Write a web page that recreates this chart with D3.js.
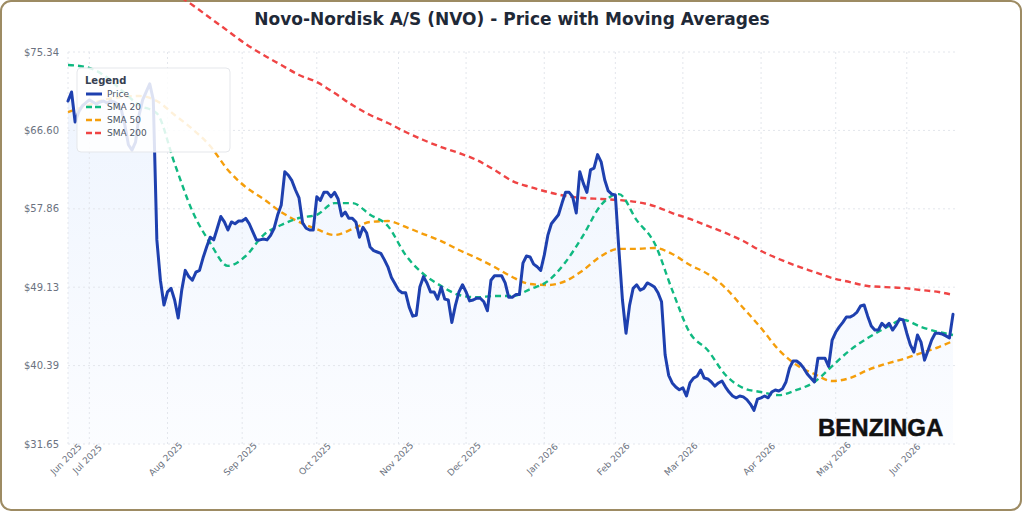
<!DOCTYPE html>
<html>
<head>
<meta charset="utf-8">
<title>NVO Price with Moving Averages</title>
<script src="https://cdn.jsdelivr.net/npm/d3@7"></script>
<style>
  body { margin: 0; background: #fff; }
  svg { display: block; font-family: "DejaVu Sans", sans-serif; }
</style>
</head>
<body>
<svg id="chart" width="1024" height="512"></svg>
<script>
// trading calendar (US market holidays skipped)
const startDate = "2025-06-23";
const endDate = "2026-06-18";
const holidays = ["2025-07-04", "2025-09-01", "2025-11-27", "2025-12-25", "2026-01-01",
  "2026-01-19", "2026-02-16", "2026-04-03", "2026-05-25"];

const yTicks = [31.65, 40.39, 49.13, 57.86, 66.60, 75.34];

// daily close
const price = [
  69.88, 70.88, 67.54, 68.65, 69.32, 69.66, 70.0, 69.77, 69.55, 69.77,
  69.88, 69.66, 69.88, 69.77, 69.55, 68.9, 67.2, 65.0, 64.4, 65.3,
  68.3, 70.0, 70.9, 71.8, 70.0, 54.4, 49.9, 47.14, 48.6, 49.0,
  47.7, 45.7, 48.8, 51.0, 50.3, 49.9, 50.8, 51.0, 52.4, 53.6,
  54.7, 54.4, 55.7, 57.0, 56.4, 55.5, 56.4, 56.2, 56.5, 56.5,
  56.8, 56.2, 55.3, 54.4, 54.4, 54.5, 54.4, 54.9, 55.7, 57.2,
  58.3, 62.0, 61.6, 61.0, 59.96, 59.07, 56.3, 55.7, 55.5, 55.5,
  59.2, 58.8, 59.7, 59.7, 59.2, 59.7, 58.96, 57.06, 57.5, 56.8,
  56.8, 56.4, 54.7, 55.8, 55.2, 53.6, 53.2, 53.05, 52.9, 52.2,
  51.4, 50.2, 49.5, 48.8, 48.5, 48.5, 46.9, 45.9, 46.0, 49.15,
  50.3, 49.6, 48.6, 48.6, 47.8, 49.15, 47.8, 47.7, 45.2, 47.1,
  48.6, 49.4, 48.6, 47.6, 47.7, 47.9, 47.9, 47.5, 46.5, 49.9,
  50.4, 50.4, 50.4, 49.6, 48.0, 48.0, 48.3, 48.3, 51.8, 52.6,
  52.5, 51.7, 51.4, 51.0, 52.7, 54.9, 56.2, 56.7, 57.2, 58.5,
  59.7, 59.7, 59.2, 57.4, 62.0, 60.7, 59.7, 62.2, 62.4, 63.9,
  63.1, 61.1, 59.85, 59.5, 59.4, 53.3, 47.7, 44.0, 47.1, 49.0,
  49.4, 48.8, 49.0, 49.6, 49.4, 49.15, 48.5, 47.5, 41.6, 39.3,
  38.45, 38.0, 37.7, 37.9, 37.0, 38.45, 39.0, 39.2, 39.9, 39.0,
  38.9, 38.56, 38.1, 38.45, 38.67, 38.0, 37.44, 37.0, 36.8, 37.0,
  36.9, 36.6, 36.1, 35.4, 36.66, 36.8, 37.0, 36.8, 37.44, 37.67,
  37.56, 37.8, 38.56, 40.1, 40.9, 40.9, 40.6, 40.1, 39.45, 39.0,
  38.56, 41.2, 41.2, 41.2, 40.3, 43.24, 44.1, 44.7, 45.2, 45.8,
  45.8, 46.0, 46.36, 47.03, 47.14, 45.9, 44.8, 44.35, 44.35, 45.1,
  44.7, 45.1, 44.35, 44.9, 45.6, 45.47, 44.0, 42.7, 41.9, 43.8,
  43.0, 41.0, 42.1, 43.24, 44.0, 44.0, 43.9, 43.7, 43.46, 46.1
];

// moving averages, read every 5th session (plus the last one)
const sma20 = [
  73.89, 73.67, 72.78, 71.1, 69.43, 68.5, 62.9, 57.6, 54.05, 51.5,
  52.6, 54.94, 56.06, 56.84, 57.2, 58.5, 58.5, 57.2, 55.95, 52.7,
  50.6, 49.26, 48.26, 48.0, 48.14, 48.14, 48.9, 49.8, 51.93, 54.94,
  58.3, 59.5, 56.6, 54.05, 48.8, 44.02, 42.1, 39.34, 37.89, 37.44,
  37.1, 37.67, 38.56, 40.34, 42.1, 43.46, 44.58, 45.47, 44.7, 44.13,
  43.8
];
const sma50 = [
  68.65, 69.32, 69.99, 70.33, 70.44, 69.88, 68.32, 66.76, 64.86, 62.19,
  60.29, 58.96, 57.5, 56.4, 55.6, 54.94, 55.6, 56.4, 56.5, 55.84,
  55.05, 54.27, 53.27, 52.38, 51.38, 50.26, 49.48, 49.37, 49.82, 51.04,
  52.6, 53.4, 53.4, 53.5, 52.83, 51.6, 50.6, 49.04, 46.81, 44.58,
  42.13, 40.45, 39.45, 38.67, 39.0, 39.9, 40.57, 41.12, 41.79, 42.46,
  43.13
];
const sma200 = [
  92.28, 90.61, 88.94, 87.27, 85.6, 83.6, 81.92, 80.58, 79.13, 77.68,
  76.23, 75.0, 73.89, 72.78, 71.99, 70.77, 69.43, 68.32, 67.43, 66.42,
  65.53, 64.75, 64.08, 63.3, 62.19, 60.96, 60.29, 59.74, 59.29, 59.07,
  58.96, 58.84, 58.62, 58.17, 57.39, 56.73, 55.95, 55.17, 54.27, 53.16,
  52.27, 51.49, 50.82, 50.15, 49.7, 49.26, 49.14, 49.03, 48.81, 48.59,
  48.26
];

const seriesNames = ["Price", "SMA 20", "SMA 50", "SMA 200"];
const seriesColors = ["#1e40af", "#10b981", "#f59e0b", "#ef4444"];

const parseDay = d3.utcParse("%Y-%m-%d");
const fmtDay = d3.utcFormat("%Y-%m-%d");
const dates = d3.utcDays(parseDay(startDate), d3.utcDay.offset(parseDay(endDate), 1))
  .filter(d => d.getUTCDay() % 6 !== 0 && !holidays.includes(fmtDay(d)));
const keys = dates.map(fmtDay);
const smaKeys = keys.filter((k, i) => i % 5 === 0 || i === keys.length - 1);

const width = 1024, height = 512;
const plot = { left: 68, right: 953, top: 52, bottom: 444, gridRight: 955 };

const svg = d3.select("#chart");

// card frame
svg.append("rect")
  .attr("x", 1).attr("y", 1)
  .attr("width", width - 4).attr("height", height - 3)
  .attr("rx", 10)
  .attr("fill", "#fff")
  .attr("stroke", "#9d8b63")
  .attr("stroke-width", 2);

const x = d3.scalePoint().domain(keys).range([plot.left, plot.right]);
const y = d3.scaleLinear()
  .domain([yTicks[0], yTicks[yTicks.length - 1]])
  .range([plot.bottom, plot.top]);

// month ticks = first session of each month
const monthKeys = keys.filter((k, i) => i === 0 || k.slice(0, 7) !== keys[i - 1].slice(0, 7));
const monthFmt = d3.utcFormat("%b %Y");

// price area gradient
const defs = svg.append("defs");
const grad = defs.append("linearGradient")
  .attr("id", "priceFill")
  .attr("gradientUnits", "userSpaceOnUse")
  .attr("x1", 0).attr("x2", 0)
  .attr("y1", plot.top).attr("y2", plot.bottom);
grad.append("stop").attr("offset", "0%").attr("stop-color", "#3b82f6").attr("stop-opacity", 0.09);
grad.append("stop").attr("offset", "100%").attr("stop-color", "#3b82f6").attr("stop-opacity", 0.02);

const priceData = keys.map((k, i) => ({ k, v: price[i] }));

svg.append("path")
  .datum(priceData)
  .attr("fill", "url(#priceFill)")
  .attr("d", d3.area()
    .x(d => x(d.k))
    .y0(plot.bottom)
    .y1(d => y(d.v)));

// grid
const grid = svg.append("g")
  .attr("stroke", "#e3e6ec")
  .attr("stroke-width", 1)
  .attr("stroke-dasharray", "2,3");

grid.selectAll(".hgrid")
  .data(yTicks)
  .enter().append("line")
  .attr("x1", plot.left).attr("x2", plot.gridRight)
  .attr("y1", d => y(d)).attr("y2", d => y(d));

grid.selectAll(".vgrid")
  .data(monthKeys)
  .enter().append("line")
  .attr("x1", d => x(d)).attr("x2", d => x(d))
  .attr("y1", plot.top).attr("y2", plot.bottom);

// axis labels
svg.append("g")
  .selectAll("text")
  .data(yTicks)
  .enter().append("text")
  .attr("x", 59)
  .attr("y", d => y(d))
  .attr("dy", "0.35em")
  .attr("text-anchor", "end")
  .attr("font-size", 10)
  .attr("fill", "#6b7280")
  .text(d => "$" + d.toFixed(2));

svg.append("g")
  .selectAll("text")
  .data(monthKeys)
  .enter().append("text")
  .attr("transform", d => `translate(${x(d) - 2},459) rotate(-45)`)
  .attr("dy", "0.35em")
  .attr("text-anchor", "middle")
  .attr("font-size", 9)
  .attr("fill", "#6b7280")
  .text(d => monthFmt(parseDay(d)));

// moving averages
const smaLine = d3.line()
  .x(d => x(d.k))
  .y(d => y(d.v))
  .curve(d3.curveMonotoneX);

[sma200, sma50, sma20].forEach((vals, j) => {
  const idx = 3 - j;
  svg.append("path")
    .datum(smaKeys.map((k, i) => ({ k, v: vals[i] })))
    .attr("fill", "none")
    .attr("stroke", seriesColors[idx])
    .attr("stroke-width", 2.4)
    .attr("stroke-dasharray", "6,4")
    .attr("d", smaLine);
});

// price line
svg.append("path")
  .datum(priceData)
  .attr("fill", "none")
  .attr("stroke", seriesColors[0])
  .attr("stroke-width", 3)
  .attr("stroke-linejoin", "round")
  .attr("stroke-linecap", "round")
  .attr("d", d3.line().x(d => x(d.k)).y(d => y(d.v)));

// title
svg.append("text")
  .attr("x", width / 2)
  .attr("y", 25)
  .attr("text-anchor", "middle")
  .attr("font-size", 17)
  .attr("font-weight", "bold")
  .attr("fill", "#1f2937")
  .text("Novo-Nordisk A/S (NVO) - Price with Moving Averages");

// legend
const legend = svg.append("g").attr("transform", "translate(77,68)");
legend.append("rect")
  .attr("width", 153).attr("height", 84)
  .attr("rx", 4)
  .attr("fill", "#fff")
  .attr("fill-opacity", 0.85)
  .attr("stroke", "#e5e7eb");
legend.append("text")
  .attr("x", 8).attr("y", 16)
  .attr("font-size", 10)
  .attr("font-weight", "bold")
  .attr("fill", "#374151")
  .text("Legend");
const items = legend.selectAll(".item")
  .data(seriesNames)
  .enter().append("g")
  .attr("transform", (d, i) => `translate(8,${26 + i * 13})`);
items.append("line")
  .attr("x1", 1).attr("x2", 17)
  .attr("stroke", (d, i) => seriesColors[i])
  .attr("stroke-width", (d, i) => i === 0 ? 3 : 2.4)
  .attr("stroke-dasharray", (d, i) => i === 0 ? null : "6,3");
items.append("text")
  .attr("x", 22)
  .attr("dy", "0.35em")
  .attr("font-size", 9)
  .attr("fill", "#4b5563")
  .text(d => d);

// watermark
svg.append("text")
  .attr("x", 818)
  .attr("y", 436)
  .attr("font-family", "'Liberation Sans', Arial, sans-serif")
  .attr("font-weight", "bold")
  .attr("font-size", 24)
  .attr("fill", "#111")
  .attr("stroke", "#111")
  .attr("stroke-width", 0.5)
  .text("BENZINGA");
</script>
</body>
</html>
